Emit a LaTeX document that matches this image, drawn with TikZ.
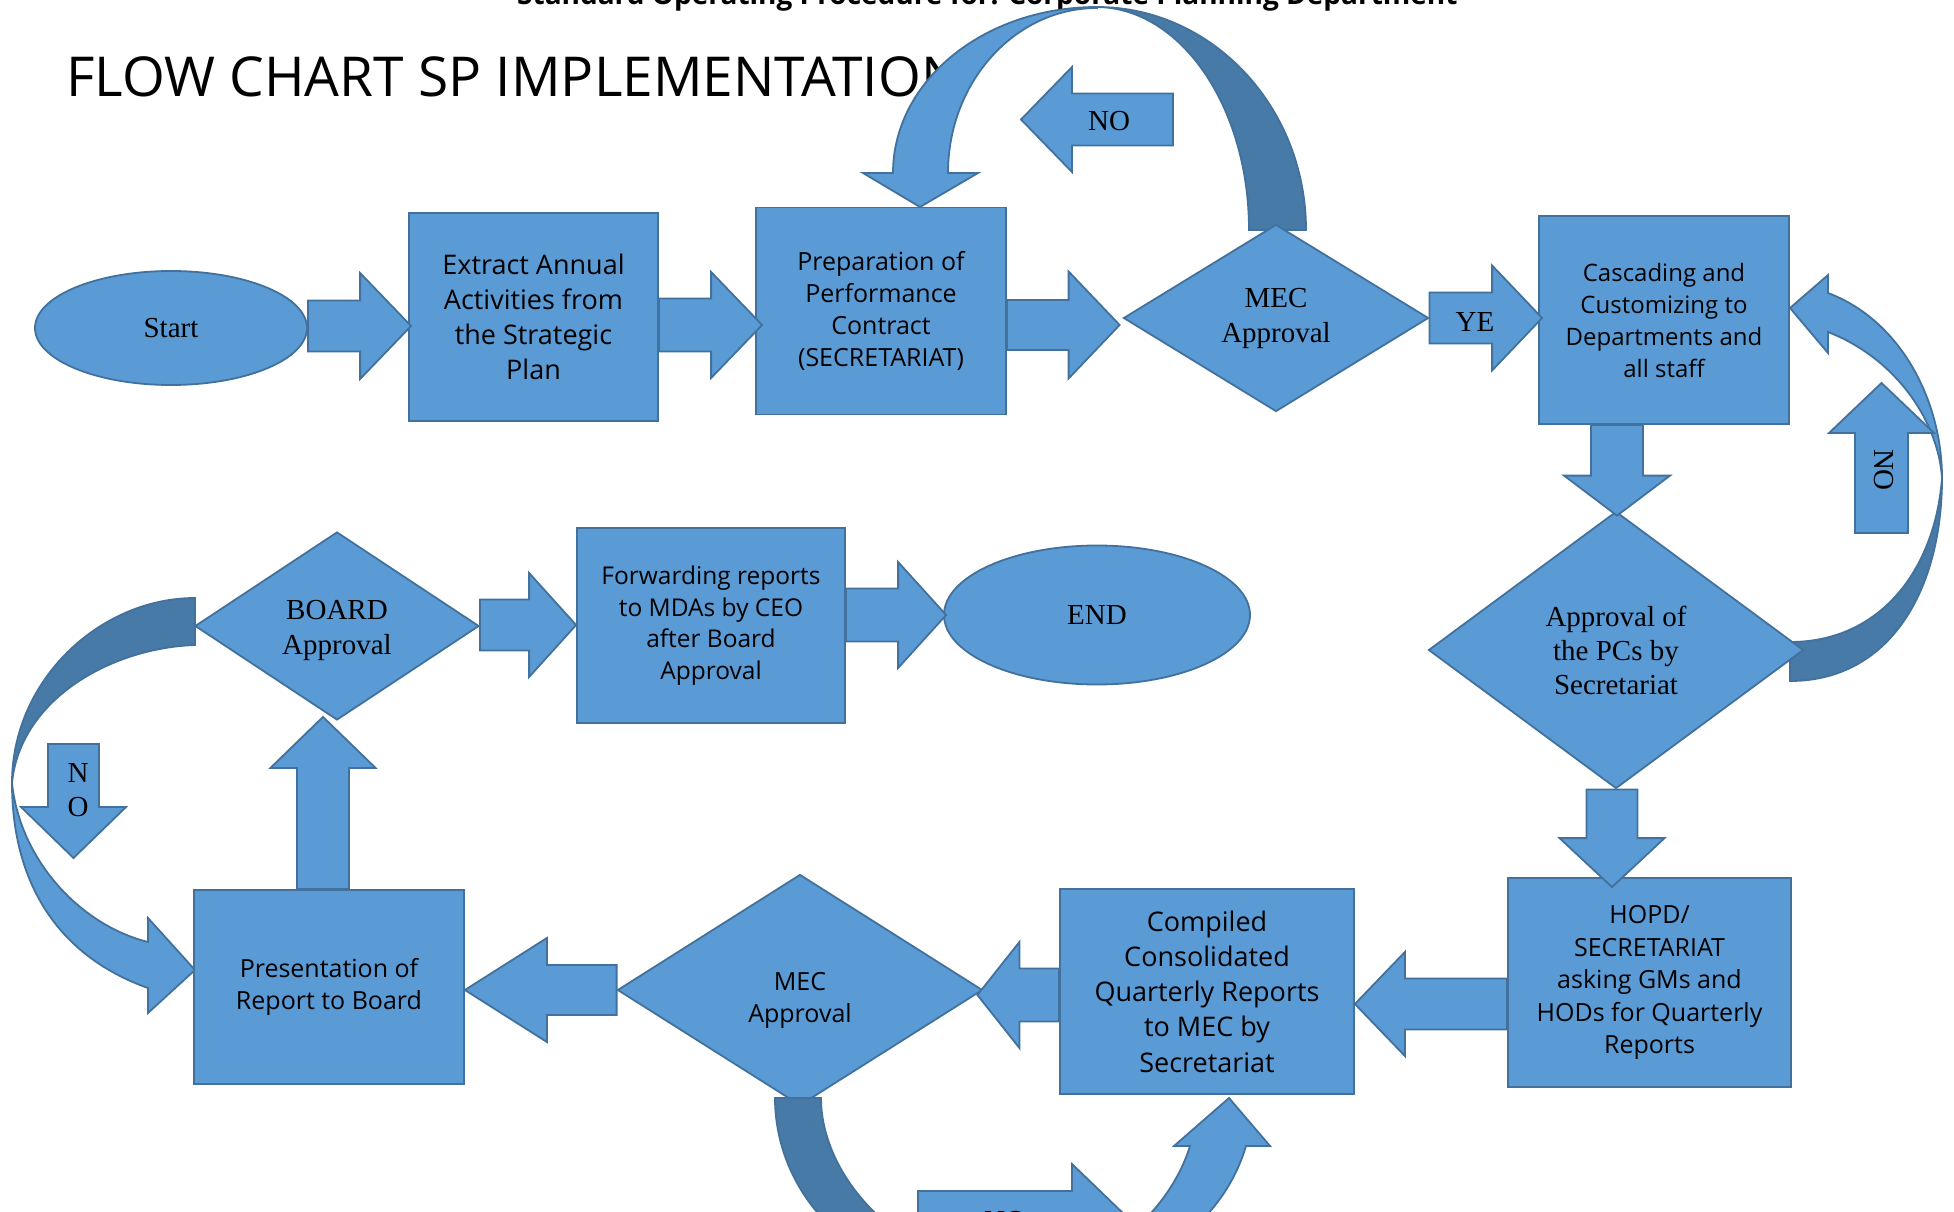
\documentclass[tikz,border=0pt]{standalone}
\usepackage{fontspec}
\setmainfont{Liberation Serif}
\newfontfamily\boxfont{Open Sans}
\usetikzlibrary{shapes.geometric,calc}
\definecolor{bfill}{HTML}{5B9BD5}
\definecolor{bline}{HTML}{41719C}
\definecolor{bdark}{HTML}{487AA8}
% block arrows: #1 start, #2 target, #3 half shaft, #4 half head, #5 head length, #6 overshoot
\newcommand\blkR[6]{\path[blk] let \p1=#1, \p2=#2 in
 (\x1,\y1+#3pt) -- (\x2+#6pt-#5pt,\y1+#3pt) -- (\x2+#6pt-#5pt,\y1+#4pt) -- (\x2+#6pt,\y1)
 -- (\x2+#6pt-#5pt,\y1-#4pt) -- (\x2+#6pt-#5pt,\y1-#3pt) -- (\x1,\y1-#3pt) -- cycle;}
\newcommand\blkL[6]{\path[blk] let \p1=#1, \p2=#2 in
 (\x1,\y1+#3pt) -- (\x2-#6pt+#5pt,\y1+#3pt) -- (\x2-#6pt+#5pt,\y1+#4pt) -- (\x2-#6pt,\y1)
 -- (\x2-#6pt+#5pt,\y1-#4pt) -- (\x2-#6pt+#5pt,\y1-#3pt) -- (\x1,\y1-#3pt) -- cycle;}
\newcommand\blkU[6]{\path[blk] let \p1=#1, \p2=#2 in
 (\x1-#3pt,\y1) -- (\x1-#3pt,\y2+#6pt-#5pt) -- (\x1-#4pt,\y2+#6pt-#5pt) -- (\x1,\y2+#6pt)
 -- (\x1+#4pt,\y2+#6pt-#5pt) -- (\x1+#3pt,\y2+#6pt-#5pt) -- (\x1+#3pt,\y1) -- cycle;}
\newcommand\blkD[6]{\path[blk] let \p1=#1, \p2=#2 in
 (\x1-#3pt,\y1) -- (\x1-#3pt,\y2-#6pt+#5pt) -- (\x1-#4pt,\y2-#6pt+#5pt) -- (\x1,\y2-#6pt)
 -- (\x1+#4pt,\y2-#6pt+#5pt) -- (\x1+#3pt,\y2-#6pt+#5pt) -- (\x1+#3pt,\y1) -- cycle;}
\begin{document}
\begin{tikzpicture}[x=1pt,y=-1pt,
  blk/.style={fill=bfill, draw=bline, line width=1.8pt},
  blkdark/.style={fill=bdark, draw=bline, line width=1.8pt},
  base/.style={fill=bfill, draw=bline, line width=1.8pt, inner sep=0pt, text=black},
  boxn/.style={base, rectangle, align=center},
  dia/.style={base, diamond, align=center},
  ell/.style={base, ellipse, align=center},
  serif/.style={font=\rmfamily\fontsize{29}{35}\selectfont},
  lbl/.style={inner sep=0pt, text=black, font=\rmfamily\fontsize{29}{34}\selectfont},
]
\useasboundingbox (0,0) rectangle (1954,1212);
\fill[white] (0,0) rectangle (1954,1212);

% header and title
\node[anchor=base west, inner sep=0pt, font=\boxfont\bfseries\fontsize{28}{32}\selectfont] (hdr) at (517,5)
  {Standard Operating Procedure for: Corporate Planning Department};
\node[anchor=base west, inner sep=0pt, font=\boxfont\fontsize{55}{60}\selectfont] (title) at (66,97)
  {FLOW CHART SP IMPLEMENTATION};

% curved arrow: MEC approval NO loop (top)
\path[blkdark] (1306,230) .. controls (1306,107) and (1212,7) .. (1097,7)
  .. controls (1181,8) and (1249,107) .. (1249,230) -- cycle;
\path[blk] (1097,7) .. controls (984,7) and (893,81) .. (893,173) -- (863,173) -- (920,207)
  -- (978,173) -- (948,173) .. controls (948,82) and (1015,8) .. (1097,8) -- cycle;

% curved arrow: approval of PCs NO loop (right)
\path[blkdark] (1942,478) .. controls (1942,590) and (1890,681) .. (1790,681) -- (1790,642)
  .. controls (1880,642) and (1935,570) .. (1942,478) -- cycle;
\path[blk] (1942,478) .. controls (1942,400) and (1900,320) .. (1828,293) -- (1828,275) -- (1790,308)
  -- (1828,353) -- (1828,332) .. controls (1895,358) and (1938,420) .. (1942,478) -- cycle;

% curved arrow: board NO loop (left)
\path[blkdark] (195,598) .. controls (100,598) and (12,680) .. (12,783)
  .. controls (20,700) and (110,648) .. (195,645) -- cycle;
\path[blk] (12,783) .. controls (12,883) and (58,956) .. (148,988) -- (148,1013) -- (195,970)
  -- (148,918) -- (148,942) .. controls (80,925) and (20,860) .. (12,783) -- cycle;

% nodes
\node[ell, serif, minimum width=272pt, minimum height=114pt] (start) at (171,328) {Start};
\node[boxn, minimum width=249pt, minimum height=208pt, font=\boxfont\fontsize{27}{35}\selectfont] (extract) at (533.5,317)
  {Extract Annual\\Activities from\\the Strategic\\Plan};
\node[boxn, minimum width=250pt, minimum height=207pt, font=\boxfont\fontsize{25}{32}\selectfont] (prep) at (881,311)
  {Preparation of\\Performance\\Contract\\(SECRETARIAT)};
\node[dia, serif, minimum width=305pt, minimum height=187pt] (mec1) at (1276,318) {MEC\\Approval};
\node[boxn, minimum width=250pt, minimum height=208pt, font=\boxfont\fontsize{24}{32}\selectfont] (casc) at (1664,320)
  {Cascading and\\Customizing to\\Departments and\\all staff};
\node[dia, font=\rmfamily\fontsize{29}{34}\selectfont, minimum width=375pt, minimum height=277pt] (appr) at (1616,650)
  {Approval of\\the PCs by\\Secretariat};
\node[boxn, minimum width=283pt, minimum height=209pt, font=\boxfont\fontsize{25}{32.5}\selectfont] (hopd) at (1649.5,982.5)
  {HOPD/\\SECRETARIAT\\asking GMs and\\HODs for Quarterly\\Reports};
\node[boxn, minimum width=294pt, minimum height=205pt, font=\boxfont\fontsize{27}{35.3}\selectfont] (compiled) at (1207,991.5)
  {Compiled\\Consolidated\\Quarterly Reports\\to MEC by\\Secretariat};
\node[dia, minimum width=365pt, minimum height=231pt] (mec2) at (800,990) {};
\node[inner sep=0pt, align=center, text=black, font=\boxfont\fontsize{25}{32}\selectfont] (mec2t) at ([yshift=-10pt]mec2.center)
  {MEC\\Approval};
\node[boxn, minimum width=270pt, minimum height=194pt, font=\boxfont\fontsize{25}{32}\selectfont] (pres) at (329,987)
  {Presentation of\\Report to Board};
\node[dia, minimum width=284pt, minimum height=188pt] (board) at (337,626) {};
\node[inner sep=0pt, align=center, text=black, serif] (boardt) at ([yshift=-4pt]board.center) {BOARD\\Approval};
\node[boxn, minimum width=268pt, minimum height=195pt, font=\boxfont\fontsize{24.5}{31.5}\selectfont] (fwd) at (711,625.5)
  {Forwarding reports\\to MDAs by CEO\\after Board\\Approval};
\node[ell, serif, minimum width=306pt, minimum height=139pt] (end) at (1097,615) {END};

% straight block arrows between nodes
\blkR{(start.east |- 0,326)}{(extract.west)}{25.5}{53}{51}{3}
\blkR{(extract.east |- 0,325)}{(prep.west)}{26.5}{53}{51}{7}
\blkR{(prep.east |- 0,325)}{(mec1.west)}{25}{53.5}{51}{-3}
\blkR{(mec1.east |- 0,318)}{(casc.west)}{25.5}{52.5}{50}{4}
\blkD{(casc.south -| 1617,0)}{(appr.north)}{26}{53}{40}{5}
\blkD{(appr.south -| 1612,0)}{(hopd.north)}{25.5}{52.5}{49}{10}
\blkL{(hopd.west |- 0,1004)}{(compiled.east)}{25.5}{52}{50}{0}
\blkL{(compiled.west |- 0,995)}{(mec2.east)}{26.5}{53}{42}{6}
\blkL{(mec2.west |- 0,990)}{(pres.east)}{25}{52}{82}{0}
\blkU{(pres.north -| 323,0)}{(board.south)}{26}{52.5}{51}{4}
\blkR{(board.east |- 0,625)}{(fwd.west)}{25.5}{52}{47}{0}
\blkR{(fwd.east |- 0,615)}{(end.west)}{26.5}{53}{48}{3}

% standalone NO arrows
\coordinate (n1a) at (1173,119.5); \coordinate (n1b) at (1021,119.5);
\blkL{(n1a)}{(n1b)}{26}{52.5}{51}{0}
\coordinate (n2a) at (1881.5,533); \coordinate (n2b) at (1881.5,383);
\blkU{(n2a)}{(n2b)}{26.5}{52.5}{50}{0}
\coordinate (n3a) at (73.5,744); \coordinate (n3b) at (73.5,858);
\blkD{(n3a)}{(n3b)}{25.5}{52.5}{51}{0}
\coordinate (n4a) at (918,1217); \coordinate (n4b) at (1127,1217);
\blkR{(n4a)}{(n4b)}{26}{53}{55}{0}

% curved arrow: MEC2 NO loop (bottom, cut by page edge)
\path[blkdark] (775,1098) .. controls (775,1170) and (820,1240) .. (900,1270) -- (950,1260)
  .. controls (870,1230) and (821,1160) .. (821,1098) -- cycle;
\path[blk] (1050,1290) .. controls (1180,1270) and (1230,1200) .. (1246,1146) -- (1270,1146) -- (1229,1098)
  -- (1174,1146) -- (1190,1146) .. controls (1175,1195) and (1130,1250) .. (1050,1280) -- cycle;

% labels
\node[lbl] (noT) at (1109,121) {NO};
\node[lbl] (ye) at (1475,322) {YE};
\node[lbl, rotate=-90] (noR) at (1884,470) {NO};
\node[lbl, align=center] (noL) at (78,790) {N\\O};
\node[lbl] (noB) at (1005,1221) {NO};
\end{tikzpicture}
\end{document}
